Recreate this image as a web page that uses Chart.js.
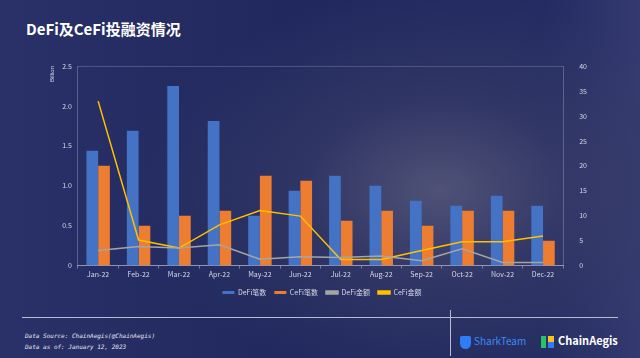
<!DOCTYPE html>
<html>
<head>
<meta charset="utf-8">
<script src="https://cdn.jsdelivr.net/npm/chart.js@4.4.0/dist/chart.umd.min.js"></script>
<style>
  html, body { margin: 0; padding: 0; }
  body {
    width: 640px; height: 358px; overflow: hidden; position: relative;
    font-family: "Noto Sans CJK SC", "Noto Sans", sans-serif;
    background:
      radial-gradient(ellipse 300px 200px at 440px 190px, rgba(82,84,120,0.95) 0%, rgba(58,62,104,0.6) 45%, rgba(35,42,92,0) 100%),
      linear-gradient(90deg, #2a3168 0%, #20285e 45%, #232b62 85%, #343a70 100%);
  }
  #title { position: absolute; left: 26px; top: 18px; color: #fff; font-size: 15px; font-weight: bold; }
  #wrap { position: absolute; left: 0; top: 50px; width: 640px; height: 260px; }
  .hline { position: absolute; left: 22px; top: 317px; width: 596px; height: 1px; background: #b8bccc; }
  .vline { position: absolute; left: 450px; top: 310px; width: 1px; height: 46px; background: #b8bccc; }
  .note { position: absolute; left: 25px; color: #e6e8f0; font-family: "DejaVu Sans Mono", monospace; font-style: italic; font-size: 6px; }
  #shark { position: absolute; left: 460px; top: 333px; color: #3a8cf0; font-size: 10px; }
  #shark b { display: inline-block; width: 11px; height: 13px; background: #2f7cf6; border-radius: 2px 2px 6px 6px; vertical-align: middle; margin-right: 3px; }
  #aegis { position: absolute; left: 541px; top: 332px; color: #fff; font-size: 11px; font-weight: bold; }
  #aegis i { display: inline-block; width: 5px; height: 12px; background: #27c26a; vertical-align: middle; margin-right: 2px; }
  #aegis u { display: inline-block; width: 6px; height: 12px; background: linear-gradient(#f6c21b 50%, #2f7cf6 50%); vertical-align: middle; margin-right: 4px; text-decoration: none; }
</style>
</head>
<body>
<div id="title">DeFi及CeFi投融资情况</div>
<div id="wrap"><canvas id="chart"></canvas></div>
<div class="hline"></div>
<div class="vline"></div>
<div class="note" style="top:332px">Data Source: ChainAegis(@ChainAegis)</div>
<div class="note" style="top:343px">Data as of: January 12, 2023</div>
<div id="shark"><b></b>SharkTeam</div>
<div id="aegis"><i></i><u></u>ChainAegis</div>
<script>
// 月份
const months = ['Jan-22', 'Feb-22', 'Mar-22', 'Apr-22', 'May-22', 'Jun-22',
                'Jul-22', 'Aug-22', 'Sep-22', 'Oct-22', 'Nov-22', 'Dec-22'];

// 笔数 (右轴)
const defiCount = [23, 27, 36, 29, 10, 15, 18, 16, 13, 12, 14, 12];
const cefiCount = [20, 8, 10, 11, 18, 17, 9, 11, 8, 11, 11, 5];

// 金额 Billion (左轴)
const defiAmount = [0.19, 0.24, 0.22, 0.26, 0.08, 0.11, 0.10, 0.12, 0.06, 0.21, 0.04, 0.04];
const cefiAmount = [2.06, 0.32, 0.22, 0.51, 0.69, 0.62, 0.076, 0.076, 0.19, 0.30, 0.30, 0.37];

const tickColor = '#d6d9e6';
const tickFont = { size: 7, family: '"Noto Sans CJK SC", "Noto Sans", sans-serif' };

new Chart(document.getElementById('chart'), {
    type: 'bar',
    data: {
        labels: months,
        datasets: [
            {
                label: 'DeFi笔数', data: defiCount, yAxisID: 'y1', order: 1,
                backgroundColor: '#4472c4', categoryPercentage: 0.58, barPercentage: 1.0
            },
            {
                label: 'CeFi笔数', data: cefiCount, yAxisID: 'y1', order: 1,
                backgroundColor: '#ed7d31', categoryPercentage: 0.58, barPercentage: 1.0
            },
            {
                type: 'line', label: 'DeFi金额', data: defiAmount, yAxisID: 'y', order: 0,
                borderColor: '#a5a5a5', backgroundColor: '#a5a5a5', borderWidth: 1.5,
                pointRadius: 0, tension: 0
            },
            {
                type: 'line', label: 'CeFi金额', data: cefiAmount, yAxisID: 'y', order: 0,
                borderColor: '#ffc000', backgroundColor: '#ffc000', borderWidth: 1.5,
                pointRadius: 0, tension: 0
            }
        ]
    },
    options: {
        responsive: true,
        maintainAspectRatio: false,
        animation: false,
        layout: { padding: { left: 49, right: 45, top: 16, bottom: 4 } },
        plugins: {
            tooltip: { enabled: false },
            legend: {
                position: 'bottom',
                labels: {
                    color: tickColor, font: tickFont, boxWidth: 12, boxHeight: 3, padding: 8,
                    sort: (a, b) => a.datasetIndex - b.datasetIndex
                }
            }
        },
        scales: {
            x: {
                grid: { display: true, drawOnChartArea: false, color: 'rgba(170,175,200,0.6)', tickLength: 3 },
                border: { color: 'rgba(170,175,200,0.8)' },
                ticks: { color: tickColor, font: tickFont, maxRotation: 0, padding: 2 }
            },
            y: {
                position: 'left', min: 0, max: 2.5,
                grid: {
                    color: ctx => ctx.tick && ctx.tick.value === 2.5 ? 'rgba(150,155,190,0.35)' : 'rgba(0,0,0,0)',
                    drawTicks: false
                },
                border: { color: 'rgba(150,155,190,0.45)' },
                ticks: { stepSize: 0.5, color: tickColor, font: tickFont, padding: 6 },
                title: { display: true, text: 'Billion', color: tickColor, font: { size: 6 }, align: 'end', padding: 0 }
            },
            y1: {
                position: 'right', min: 0, max: 40,
                grid: { display: false },
                border: { color: 'rgba(150,155,190,0.45)' },
                ticks: { stepSize: 5, color: tickColor, font: tickFont, padding: 8 }
            }
        }
    }
});
</script>
</body>
</html>
